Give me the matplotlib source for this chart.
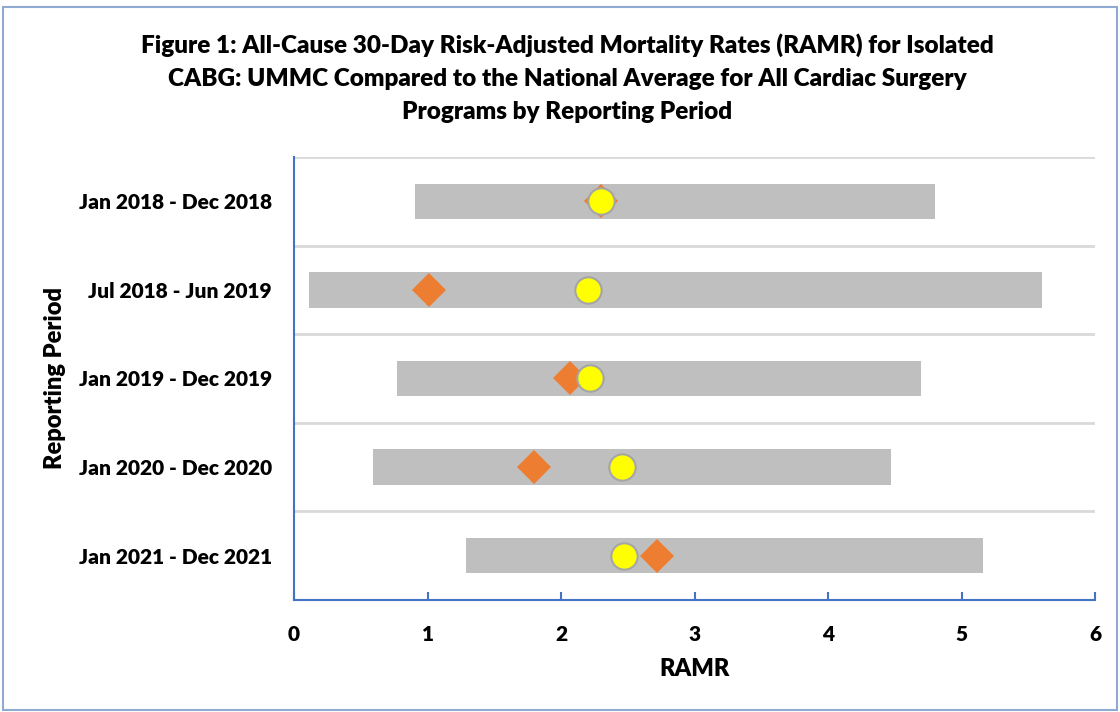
import matplotlib.pyplot as plt
from matplotlib.patches import Rectangle

# ---------------------------------------------------------------------
periods = ['Jan 2018 - Dec 2018', 'Jul 2018 - Jun 2019', 'Jan 2019 - Dec 2019',
           'Jan 2020 - Dec 2020', 'Jan 2021 - Dec 2021']
ci_low = [0.91, 0.11, 0.77, 0.59, 1.29]
ci_high = [4.80, 5.60, 4.70, 4.47, 5.16]
ummc_ramr = [2.30, 1.01, 2.07, 1.80, 2.72]
national_avg = [2.30, 2.20, 2.22, 2.46, 2.47]
xticks = [0, 1, 2, 3, 4, 5, 6]
title = ('Figure 1: All-Cause 30-Day Risk-Adjusted Mortality Rates (RAMR) for Isolated\n'
         'CABG: UMMC Compared to the National Average for All Cardiac Surgery\n'
         'Programs by Reporting Period')
# ---------------------------------------------------------------------
plt.rcParams['font.family'] = ['Lato', 'DejaVu Sans']
W = 'heavy'

blue = '#4472c4'
fig = plt.figure(figsize=(11.2, 7.12), dpi=100)
ax = fig.add_axes([0.2625, 0.1573, 0.7152, 0.6222])

ypos = list(range(len(periods)))
widths = [h - l for l, h in zip(ci_low, ci_high)]
ax.barh(ypos, widths, left=ci_low, height=0.4, color='#bfbfbf', zorder=2)
ax.plot(ummc_ramr, ypos, linestyle='none', marker='D', markersize=17,
        color='#ed7d31', markeredgewidth=0, zorder=3)
ax.plot(national_avg, ypos, linestyle='none', marker='o', markersize=19,
        markerfacecolor='#ffff00', markeredgecolor='#a5a5a5',
        markeredgewidth=1.5, zorder=4)

ax.set_xlim(0, 6)
ax.set_ylim(4.5, -0.5)
ax.set_xticks(xticks)
ax.set_yticks(ypos)
ax.set_yticklabels(periods)

# separators between categories
for b in [-0.5, 0.5, 1.5, 2.5, 3.5]:
    ax.axhline(b, color='#d9d9d9', lw=2, zorder=1)

for side in ['top', 'right']:
    ax.spines[side].set_visible(False)
for side in ['left', 'bottom']:
    ax.spines[side].set_color(blue)
    ax.spines[side].set_linewidth(1.5)

ax.tick_params(axis='x', direction='in', length=6, width=1.5, color=blue,
               labelsize=15, pad=18)
ax.tick_params(axis='y', length=0, labelsize=15, pad=16)
for lab in ax.get_xticklabels() + ax.get_yticklabels():
    lab.set_fontweight(W)

ax.set_xlabel('RAMR', fontsize=17, fontweight=W, labelpad=10)
ax.set_ylabel('Reporting Period', fontsize=17, fontweight=W, labelpad=9)

fig.text(0.5065, 0.8904, title, ha='center', va='center', fontsize=17.5,
         fontweight=W, linespacing=1.62)

fig.patches.append(Rectangle((0.003, 0.003), 0.994, 0.987, transform=fig.transFigure,
                             fill=False, edgecolor='#8fa9d0', lw=1.5))

fig.savefig('out.png', dpi=100)
